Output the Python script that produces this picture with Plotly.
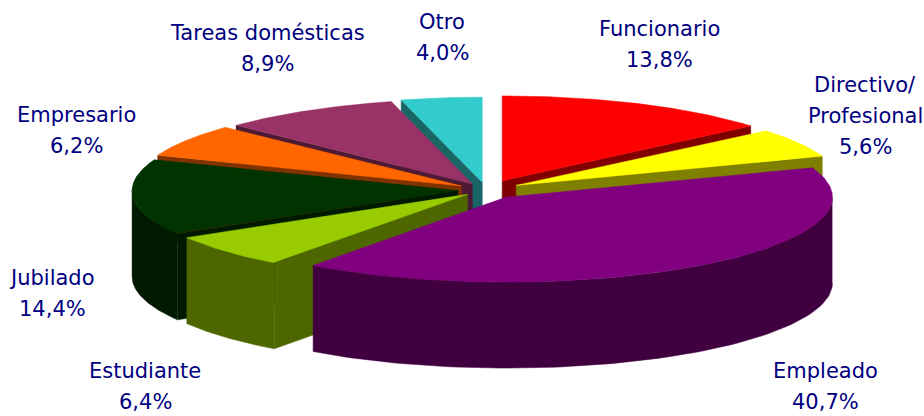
import numpy as np
import plotly.graph_objects as go

categories = ["Funcionario", "Directivo/<br>Profesional", "Empleado", "Estudiante",
              "Jubilado", "Empresario", "Tareas domésticas", "Otro"]
values = [13.8, 5.6, 40.7, 6.4, 14.4, 6.2, 8.9, 4.0]

top_colors = ["#FF0000", "#FFFF00", "#800080", "#99CC00", "#003300", "#FF6600", "#993366", "#33CCCC"]
side_colors = ["#800000", "#808000", "#400040", "#4D6600", "#001A00", "#803300", "#4D1A33", "#1A6666"]
pulls = [38.5, 35, 34, 25, 28, 29, 27, 30]
paint_order = [0, 7, 6, 5, 1, 4, 3, 2]
label_pos = [(659, 29), (865, 85), (825, 371), (145, 371), (52, 278), (76, 115), (267, 33), (442, 22)]

CX, CY, RX, RY, DEPTH = 486.0, 190.0, 326.0, 85.0, 86.0
FONT = "DejaVu Sans"
LINE = 31

total = sum(values)
edges = np.concatenate([[0], np.cumsum(values)]) / total * 2 * np.pi


def rim(ax, ay, a):
    return ax + RX * np.sin(a), ay - RY * np.cos(a)


def poly(fig, x, y, color):
    fig.add_trace(go.Scatter(x=list(x), y=list(y), mode="lines", fill="toself", fillcolor=color,
                             line=dict(color=color, width=0.5), hoverinfo="skip", showlegend=False))


fig = go.Figure()
for i in paint_order:
    a0, a1 = edges[i], edges[i + 1]
    mid = (a0 + a1) / 2
    ax = CX + pulls[i] * np.sin(mid)
    ay = CY - pulls[i] * np.cos(mid) * RY / RX
    # cut faces
    if np.sin(a0) < -1e-6:
        x0, y0 = rim(ax, ay, a0)
        poly(fig, [ax, x0, x0, ax, ax], [ay, y0, y0 + DEPTH, ay + DEPTH, ay], side_colors[i])
    if np.sin(a1) > 1e-6:
        x1, y1 = rim(ax, ay, a1)
        poly(fig, [ax, x1, x1, ax, ax], [ay, y1, y1 + DEPTH, ay + DEPTH, ay], side_colors[i])
    # outer wall (front half of the rim)
    lo, hi = max(a0, np.pi / 2), min(a1, 3 * np.pi / 2)
    if hi > lo:
        t = np.linspace(lo, hi, 80)
        rx_, ry_ = rim(ax, ay, t)
        poly(fig, np.concatenate([rx_, rx_[::-1]]), np.concatenate([ry_, ry_[::-1] + DEPTH]), side_colors[i])
    # top
    t = np.linspace(a0, a1, 120)
    rx_, ry_ = rim(ax, ay, t)
    poly(fig, np.concatenate([[ax], rx_, [ax]]), np.concatenate([[ay], ry_, [ay]]), top_colors[i])

for name, v, (lx, ly) in zip(categories, values, label_pos):
    lines = name.split("<br>") + [f"{v:.1f}%".replace(".", ",")]
    for k, line in enumerate(lines):
        fig.add_annotation(x=lx, y=ly + k * LINE, xref="x", yref="y", showarrow=False, align="center",
                           text=line, font=dict(family=FONT, size=21, color="#000080"))

fig.update_layout(
    width=924, height=416, margin=dict(l=0, r=0, t=0, b=0),
    paper_bgcolor="white", plot_bgcolor="white", showlegend=False,
    xaxis=dict(range=[0, 924], visible=False, fixedrange=True),
    yaxis=dict(range=[416, 0], visible=False, fixedrange=True),
)
fig.write_html("out.html", config={"displayModeBar": False},
               post_script="document.body.style.margin='0';document.documentElement.style.overflow='hidden';")
